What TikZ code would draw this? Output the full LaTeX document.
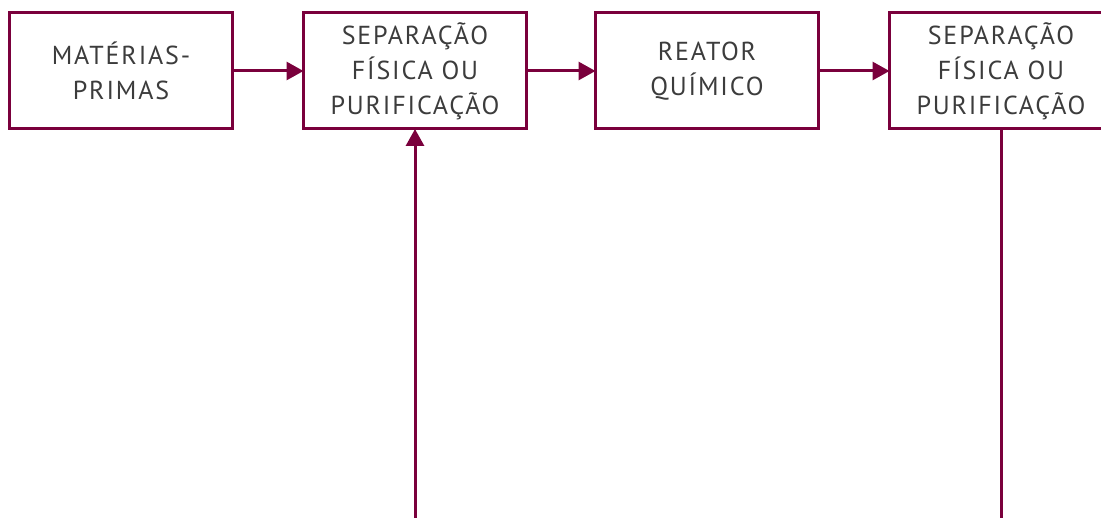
\documentclass[tikz,border=0pt]{standalone}
\usepackage{fontspec}
\setmainfont[LetterSpace=7]{PT Sans}
\usetikzlibrary{positioning,arrows.meta}
\definecolor{vinho}{RGB}{122,0,60}
\definecolor{texto}{RGB}{60,60,60}
\tikzset{
  etapa/.style={draw=vinho,line width=3pt,minimum width=223pt,minimum height=116pt,inner sep=0pt,
    outer sep=0pt,align=center,text=texto,font=\fontsize{26}{35}\selectfont},
  fluxo/.style={draw=vinho,line width=3pt,-{Triangle[length=17pt,width=18pt]}}
}
\begin{document}
\begin{tikzpicture}
  \useasboundingbox (0,0) rectangle (1101pt,-518pt);
  \node[etapa] (materias) at (121pt,-71pt) {MATÉRIAS-\\PRIMAS};
  \node[etapa,right=71pt of materias] (sep1) {SEPARAÇÃO\\FÍSICA OU\\PURIFICAÇÃO};
  \node[etapa,right=69pt of sep1] (reator) {REATOR\\QUÍMICO};
  \node[etapa,right=71pt of reator] (sep2) {SEPARAÇÃO\\FÍSICA OU\\PURIFICAÇÃO};
  \coordinate (entrada) at (sep1.south |- 0,-518pt);
  \coordinate (saida) at (sep2.south |- 0,-518pt);
  \draw[fluxo] (materias) -- (sep1);
  \draw[fluxo] (sep1) -- (reator);
  \draw[fluxo] (reator) -- (sep2);
  \draw[fluxo] (entrada) -- (sep1);
  %\draw[fluxo] (sep2) -- (saida);
  \draw[draw=vinho,line width=3pt] (sep2.south) -- (saida);
\end{tikzpicture}
\end{document}
